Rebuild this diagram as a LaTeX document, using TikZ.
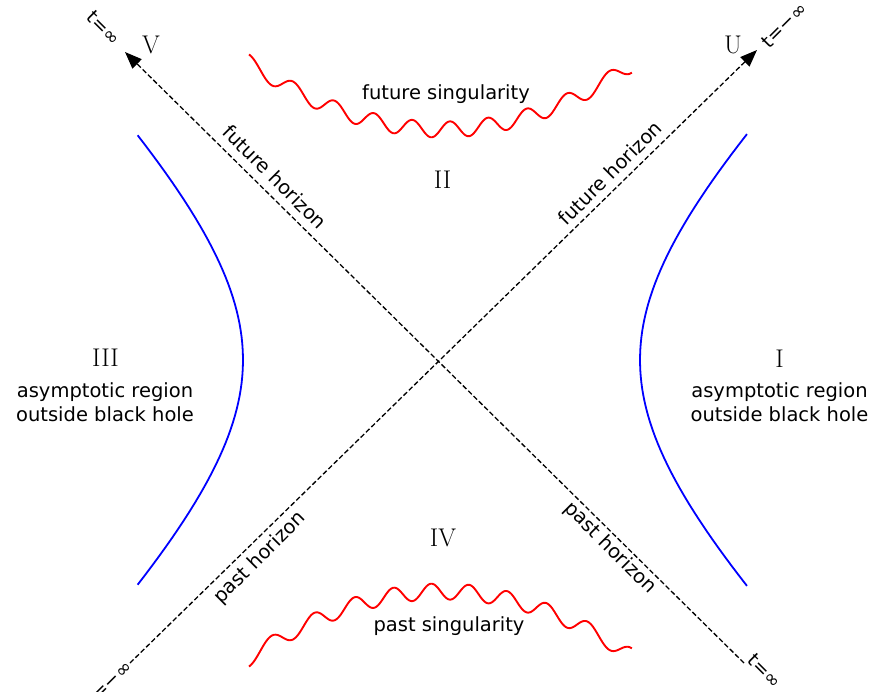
\documentclass[tikz,border=0pt]{standalone}
\usepackage{fontspec}
\newfontfamily\djv{DejaVu Sans}
\usetikzlibrary{arrows.meta}
\begin{document}
\begin{tikzpicture}[x=1pt,y=-1pt,
  horizon/.style={line width=1.3pt, dash pattern=on 5pt off 2.5pt, -{Triangle[length=17pt,width=13pt]}},
  lab/.style={inner sep=0pt, font={\djv\fontsize{19.5pt}{24pt}\selectfont}},
  tlab/.style={inner sep=0pt, font={\djv\fontsize{19pt}{22pt}\selectfont}},
  numeral/.style={inner sep=0pt, font={\fontsize{25.6pt}{30pt}\selectfont}},
  hyp/.style={draw=blue, line width=1.8pt},
  sing/.style={draw=red, line width=1.9pt, line join=round}]
\useasboundingbox (0,0) rectangle (881,692);
% horizons
\coordinate (Abot) at (130,663);
\coordinate (Atop) at (757,50);
\coordinate (Bbot) at (744,663);
\coordinate (Btop) at (125,52);
\draw[horizon] (Abot) -- (Atop);
\draw[horizon] (Bbot) -- (Btop);
% axis labels
\node[numeral] (V) at (151,44.5) {V};
\node[numeral] (U) at (733,45) {U};
\node[tlab, rotate=-45] (tTL) at (104,28) {t=∞};
\node[tlab, rotate=45] (tTR) at (784,25) {t=−∞};
\node[tlab, rotate=-45] (tBR) at (765,671) {t=∞};
\node[tlab, rotate=45] (tBL) at (109,683) {t=−∞};
% horizon labels
\node[lab, rotate=-45] (fhL) at (275,177) {future horizon};
\node[lab, rotate=45] (fhR) at (610,173) {future horizon};
\node[lab, rotate=45] (phL) at (260,558) {past horizon};
\node[lab, rotate=-45] (phR) at (610,548) {past horizon};
% singularities
\draw[sing] plot[domain=-0.648:0.639, samples=500, variable=\s]
  ({442+278*sinh(\s)}, {129.5-139.1*sinh(\s)^2+8*sin(deg(46.4*\s+28.5))});
\draw[sing] plot[domain=-0.648:0.639, samples=500, variable=\s]
  ({442+278*sinh(\s)}, {721-(129.5-139.1*sinh(\s)^2+8*sin(deg(46.4*\s+28.5)))});
\node[lab, anchor=base] (fs) at (446,100) {future singularity};
\node[lab, anchor=base] (ps) at (449,631) {past singularity};
% hyperbolas
\draw[hyp] plot[domain=-0.993:0.993, samples=60, variable=\t] ({440+200*cosh(\t)}, {360+194*sinh(\t)});
\draw[hyp] plot[domain=-0.993:0.993, samples=60, variable=\t] ({440-197*cosh(\t)}, {360+193*sinh(\t)});
% regions
\node[numeral] (rII) at (442.5,179.5) {II};
\node[numeral] (rIV) at (443,537.5) {IV};
\node[numeral] (rIII) at (105.5,358) {III};
\node[numeral] (rI) at (779.5,358.5) {I};
\node[lab, anchor=base] (a3) at (105,398) {asymptotic region};
\node[lab, anchor=base] (o3) at (105,421) {outside black hole};
\node[lab, anchor=base] (a1) at (779.5,398) {asymptotic region};
\node[lab, anchor=base] (o1) at (779.5,421) {outside black hole};
\end{tikzpicture}
\end{document}
